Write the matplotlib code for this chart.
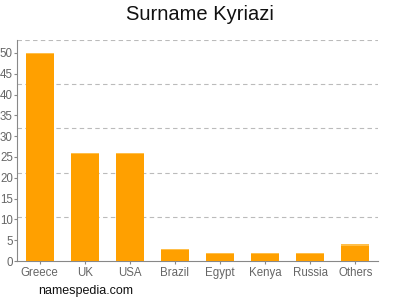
import matplotlib
matplotlib.use("Agg")
from matplotlib import pyplot as plt

plt.rcParams["font.family"] = ["Liberation Sans", "DejaVu Sans"]

countries = ["Greece", "UK", "USA", "Brazil", "Egypt", "Kenya", "Russia", "Others"]
counts = [50, 26, 26, 3, 2, 2, 2, 4]
y_ticks = [0, 5, 10, 15, 20, 25, 30, 35, 40, 45, 50]

Y_MAX = 53.1
BAR = "#ffa000"
GREY = "#888888"

fig = plt.figure(figsize=(4, 3), dpi=100)
ax = fig.add_axes([17 / 400, 1 - 261 / 300, 361 / 400, 221 / 300])

xs = list(range(len(countries)))
ax.bar(xs, counts, width=0.62, color=BAR, zorder=3)
# lighter cap on each bar
ax.bar(xs, [0.3] * len(counts), bottom=[c - 0.3 for c in counts],
       width=0.62, color="#ffbf4a", zorder=4)

ax.set_xlim(-0.5, len(countries) - 0.5)
ax.set_ylim(0, Y_MAX)

# dashed grid at fifths of the axis height
for k in range(1, 6):
    ax.axhline(Y_MAX * k / 5, color="#bbbbbb", linestyle=(0, (4, 3)),
               linewidth=0.8, zorder=1)

ax.set_yticks(y_ticks)
ax.set_xticks(xs, labels=countries)
ax.tick_params(axis="both", colors=GREY, labelcolor="#666666",
               labelsize=8.3, length=2.5, width=0.8)
ax.tick_params(axis="x", pad=2)
ax.tick_params(axis="y", pad=0.5)

for side in ("top", "right"):
    ax.spines[side].set_visible(False)
for side in ("left", "bottom"):
    ax.spines[side].set_color(GREY)
    ax.spines[side].set_linewidth(0.8)

fig.text(0.5, 1 - 15 / 300, "Surname Kyriazi", ha="center", va="center",
         fontsize=14.5, color="#111111")
fig.text(38 / 400, 1 - 291 / 300, "namespedia.com", ha="left", va="center",
         fontsize=9, color="#111111")

fig.savefig("out.png", dpi=100)
